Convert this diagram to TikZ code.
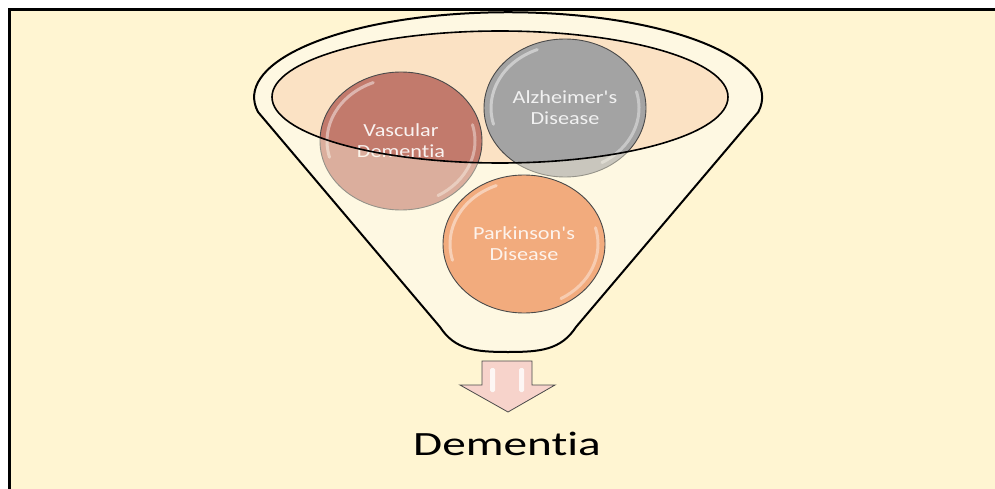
\documentclass[tikz,border=0pt]{standalone}
\usepackage{fontspec}
\setmainfont{Carlito}[Ligatures={NoCommon}]
\usetikzlibrary{shapes.geometric,calc}
\definecolor{bg}{HTML}{FFF5D2}
\definecolor{rim}{HTML}{FEF8E2}
\definecolor{peach}{HTML}{FBE2C4}
\definecolor{vasc}{HTML}{C27A6C}
\definecolor{alz}{HTML}{A3A3A3}
\definecolor{park}{HTML}{F2AB7D}
\definecolor{arrowpink}{HTML}{F7D3CB}
\definecolor{edge}{HTML}{4A4A4A}
\newcommand\strtxt[1]{\scalebox{1.2}[1]{#1}}
\newcommand\glossy[1]{%
  \draw[white, opacity=0.45, line width=3pt, line cap=round]
    ($(#1.center)+(195:74pt and 63pt)$) arc[start angle=195, end angle=112, x radius=74pt, y radius=63pt];
  \draw[white, opacity=0.4, line width=3pt, line cap=round]
    ($(#1.center)+(-60:74pt and 63pt)$) arc[start angle=-60, end angle=15, x radius=74pt, y radius=63pt];}
\def\funnelpath{(258,112) arc[start angle=190, end angle=-10, x radius=254pt, y radius=85pt]
  -- (576,327) .. controls (561,350) and (540,352) .. (508,352)
  .. controls (476,352) and (455,350) .. (440,327) -- cycle}
\begin{document}
\begin{tikzpicture}[x=1pt,y=-1pt,
  bubble/.style={ellipse, draw=edge, line width=0.9pt, minimum width=162pt, minimum height=138pt,
    inner sep=0pt, align=center, font=\fontsize{18.5}{21}\selectfont},
  funnelline/.style={draw=black, line width=2pt},
  bigtext/.style={font=\fontsize{34}{40}\selectfont, text=black}]
\useasboundingbox (0,0) rectangle (995,489);
\fill[white] (0,0) rectangle (995,489);
\fill[bg] (9.5,9.5) rectangle (995,489);
\draw[line width=3pt] (9.5,489) -- (9.5,9.5) -- (995,9.5);
% funnel back
\fill[rim] \funnelpath;
\fill[peach] (500,97) ellipse[x radius=228pt, y radius=66pt];
% back bubbles
\node[bubble, fill=vasc, text=white!90!vasc] (vd) at (401,141) {\strtxt{Vascular}\\\strtxt{Dementia}};
\glossy{vd}
\node[bubble, fill=alz, text=white!85!alz] (ad) at (565,108) {\strtxt{Alzheimer\textquotesingle s}\\\strtxt{Disease}};
\glossy{ad}
% funnel front (semi transparent)
\fill[rim, opacity=0.42, even odd rule] \funnelpath (500,97) ellipse[x radius=228pt, y radius=66pt];
\draw[line width=1.6pt] (500,97) ellipse[x radius=228pt, y radius=66pt];
\path[funnelline] \funnelpath;
% front bubble
\node[bubble, fill=park, text=white!85!park] (pd) at (524,244) {\strtxt{Parkinson\textquotesingle s}\\\strtxt{Disease}};
\glossy{pd}
% arrow
\draw[draw=edge, line width=0.8pt, fill=arrowpink, line join=miter]
  (482,361) -- (532,361) -- (532,385) -- (555,385) -- (508,412) -- (460,385) -- (482,385) -- cycle;
\fill[white, opacity=0.8, rounded corners=1.5pt] (490,368) rectangle (495,392);
\fill[white, opacity=0.8, rounded corners=1.5pt] (519,368) rectangle (524,392);
\node[bigtext, anchor=base] (dem) at (507,455) {\scalebox{1.39}[1]{Dementia}};
\end{tikzpicture}
\end{document}
